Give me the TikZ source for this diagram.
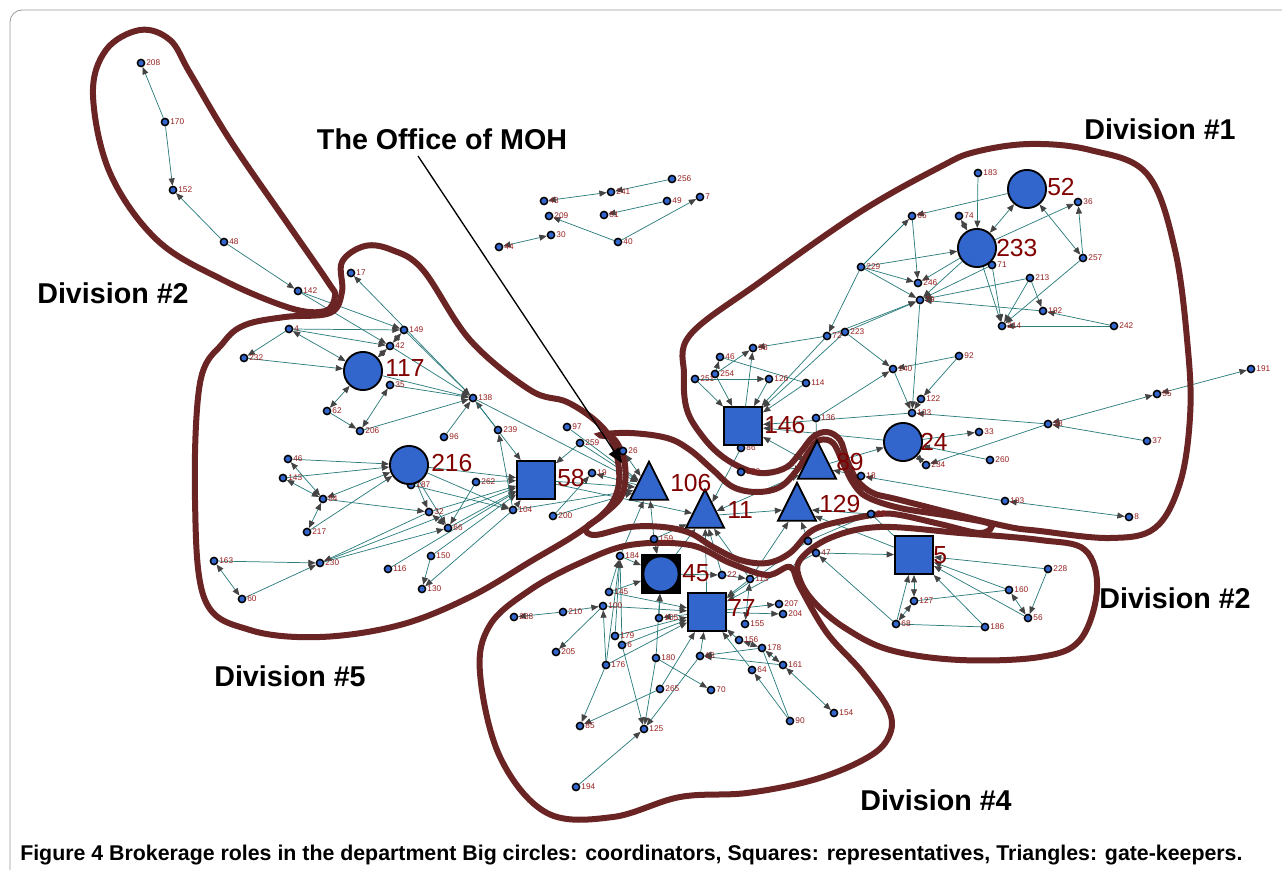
\documentclass[tikz,border=0pt]{standalone}
\usepackage{fontspec}
\setmainfont{Liberation Sans}
\usetikzlibrary{arrows.meta,shapes.geometric}
\definecolor{nblue}{RGB}{51,102,204}
\definecolor{eteal}{RGB}{45,125,125}
\definecolor{agray}{RGB}{68,68,68}
\definecolor{lred}{RGB}{150,30,30}
\definecolor{bred}{RGB}{128,0,0}
\definecolor{outl}{RGB}{107,36,36}
\pgfdeclarelayer{edges}\pgfdeclarelayer{outlines}
\pgfsetlayers{edges,outlines,main}
\newcommand\smnode[4]{\node[sn,label={[sl]0:#4}] (#1) at (#2,#3) {};}
\begin{document}
\begin{tikzpicture}[x=0.75pt,y=-0.75pt,
  sn/.style={circle,draw=black,line width=1.1pt,fill=nblue,inner sep=0pt,minimum size=5.4pt},
  sl/.style={text=lred,font=\fontsize{6.2}{6.2}\selectfont,inner sep=0.6pt,label distance=0pt},
  bc/.style={circle,draw=black,line width=1.4pt,fill=nblue,minimum size=28.6pt,inner sep=0pt},
  bs/.style={rectangle,draw=black,line width=1.4pt,fill=nblue,minimum size=28.6pt,inner sep=0pt},
  bt/.style={isosceles triangle,shape border rotate=90,isosceles triangle stretches,minimum width=28.6pt,minimum height=28.6pt,draw=black,line width=1.4pt,fill=nblue,inner sep=0pt},
  bl/.style={text=bred,font=\fontsize{18.5}{18.5}\selectfont,inner sep=0pt,anchor=west},
  tip/.tip={Triangle[length=5.5pt,width=4.5pt,color=agray]},
  e/.style={draw=eteal,line width=0.55pt,-tip},
  eb/.style={draw=eteal,line width=0.55pt,tip-tip},
  ep/.style={draw=eteal,line width=0.55pt},
  dv/.style={outl,line width=4.5pt},
  dl/.style={font=\bfseries\fontsize{21.5}{21.5}\selectfont,inner sep=0pt}
]
\useasboundingbox (0,0) rectangle (1282,870);
\draw[black!40,line width=0.6pt,rounded corners=9pt] (10,880) -- (10,10) -- (1295,10);

% ---------- small nodes ----------
\smnode{n208}{141}{63}{208}
\smnode{n170}{165}{122}{170}
\smnode{n152}{173}{190}{152}
\smnode{n48}{224}{242}{48}
\smnode{n142}{298}{291}{142}
\smnode{n17}{351}{273}{17}
\smnode{n4}{289}{329}{4}
\smnode{n149}{404}{330}{149}
\smnode{n42}{390}{346}{42}
\smnode{n232}{244}{358}{232}
\smnode{n35}{390}{385}{35}
\smnode{n62}{327}{411}{62}
\smnode{n206}{360}{431}{206}
\smnode{n96}{444}{437}{96}
\smnode{n138}{473}{398}{138}
\smnode{n187}{411}{485}{187}
\smnode{n46a}{288}{459}{46}
\smnode{n143}{283}{478}{143}
\smnode{n84}{323}{499}{84}
\smnode{n217}{307}{532}{217}
\smnode{n32}{429}{512}{32}
\smnode{n66}{448}{528}{66}
\smnode{n163}{214}{561}{163}
\smnode{n230}{320}{563}{230}
\smnode{n60}{242}{599}{60}
\smnode{n116}{388}{569}{116}
\smnode{n150}{431}{556}{150}
\smnode{n130}{422}{589}{130}
\smnode{n239}{498}{430}{239}
\smnode{n97}{567}{427}{97}
\smnode{n259}{580}{443}{259}
\smnode{n26}{623}{451}{26}
\smnode{n19}{592}{473}{19}
\smnode{n262}{476}{482}{262}
\smnode{n104}{513}{510}{104}
\smnode{n200}{553}{516}{200}
\smnode{n159}{654}{539}{159}
\smnode{n184}{620}{556}{184}
% top cluster
\smnode{n256}{672}{179}{256}
\smnode{n241}{611}{192}{241}
\smnode{n43}{544}{201}{43}
\smnode{n49}{667}{201}{49}
\smnode{n7}{700}{197}{7}
\smnode{n209}{549}{216}{209}
\smnode{n81}{604}{215}{81}
\smnode{n30}{551}{235}{30}
\smnode{n44}{499}{247}{44}
\smnode{n40}{618}{242}{40}
% division 1
\smnode{n72}{827}{336}{72}
\smnode{n223}{845}{332}{223}
\smnode{n98}{753}{348}{98}
\smnode{n46b}{720}{357}{46}
\smnode{n254}{715}{374}{254}
\smnode{n251}{695}{379}{251}
\smnode{n126}{769}{379}{126}
\smnode{n114}{806}{383}{114}
\smnode{n140}{893}{369}{140}
\smnode{n92}{959}{356}{92}
\smnode{n122}{921}{399}{122}
\smnode{n133}{912}{413}{133}
\smnode{n136}{816}{418}{136}
\smnode{n86}{741}{448}{86}
\smnode{n250}{741}{472}{250}
\smnode{n33}{979}{432}{33}
\smnode{n234}{926}{465}{234}
\smnode{n260}{990}{460}{260}
\smnode{n18}{861}{476}{18}
\smnode{n65}{912}{216}{65}
\smnode{n74}{959}{216}{74}
\smnode{n229}{861}{267}{229}
\smnode{n246}{918}{283}{246}
\smnode{n79}{920}{300}{79}
\smnode{n183}{978}{173}{183}
\smnode{n36}{1078}{202}{36}
\smnode{n71}{992}{265}{71}
\smnode{n257}{1083}{258}{257}
\smnode{n213}{1030}{278}{213}
\smnode{n192}{1043}{311}{192}
\smnode{n214}{1002}{326}{214}
\smnode{n242}{1114}{326}{242}
\smnode{n191}{1251}{369}{191}
\smnode{n55}{1157}{394}{55}
\smnode{n38}{1048}{424}{38}
\smnode{n37}{1147}{441}{37}
\smnode{n193}{1005}{501}{193}
\smnode{n8}{1129}{517}{8}
% division 4
\smnode{n145}{609}{592}{145}
\smnode{n100}{603}{606}{100}
\smnode{n210}{563}{612}{210}
\smnode{n238}{514}{617}{238}
\smnode{n105}{659}{618}{105}
\smnode{n179}{615}{636}{179}
\smnode{n6}{622}{645}{6}
\smnode{n205}{556}{652}{205}
\smnode{n176}{606}{665}{176}
\smnode{n180}{656}{658}{180}
\smnode{n265}{660}{689}{265}
\smnode{n22}{722}{575}{22}
\smnode{n113}{750}{579}{113}
\smnode{n207}{779}{604}{207}
\smnode{n201}{783}{614}{204}
\smnode{n155}{745}{624}{155}
\smnode{n156}{739}{640}{156}
\smnode{n178}{762}{648}{178}
\smnode{n13}{700}{656}{13}
\smnode{n161}{783}{665}{161}
\smnode{n64}{752}{670}{64}
\smnode{n70}{711}{690}{70}
\smnode{n85}{580}{726}{85}
\smnode{n125}{644}{729}{125}
\smnode{n90}{790}{721}{90}
\smnode{n154}{834}{713}{154}
\smnode{n194}{576}{787}{194}
% division 2 (right)
\smnode{n88}{871}{514}{88}
\node[sn] (nx1) at (808,541) {};
\smnode{n47}{816}{553}{47}
\smnode{n228}{1048}{569}{228}
\smnode{n160}{1009}{590}{160}
\smnode{n127}{914}{601}{127}
\smnode{n56}{1028}{618}{56}
\smnode{n68}{896}{624}{68}
\smnode{n186}{985}{627}{186}

% ---------- big nodes ----------
\node[bc] (c117) at (363,371) {};
\node[bc] (c216) at (409,465) {};
\node[bs] (s58) at (536,480) {};
\node[bt] (t106) at (649,488) {};
\node[bt] (t11) at (705,516) {};
\node[bt] (t89) at (817,467) {};
\node[bt] (t129) at (797,509) {};
\node[bs] (s146) at (743,426) {};
\node[bc] (c24) at (903,442) {};
\node[bc] (c233) at (977,248) {};
\node[bc] (c52) at (1027,189) {};
\node[bs,fill=black] (s45) at (661,574) {};
\node[circle,fill=nblue,minimum size=25pt,inner sep=0pt] (c45) at (661,574) {};
\node[bs] (s77) at (707,612) {};
\node[bs] (s5) at (914,555) {};

\node[bl] (l117) at (385,368) {117};
\node[bl] (l216) at (431,463) {216};
\node[bl] (l58) at (557,478) {58};
\node[bl] (l106) at (670,483) {106};
\node[bl] (l11) at (727,510) {11};
\node[bl] (l146) at (764,425) {146};
\node[bl] (l89) at (836,462) {89};
\node[bl] (l129) at (819,504) {129};
\node[bl] (l24) at (920,442) {24};
\node[bl] (l233) at (996,248) {233};
\node[bl] (l52) at (1047,187) {52};
\node[bl] (l45) at (682,573) {45};
\node[bl] (l77) at (728,608) {77};
\node[bl] (l5) at (933,555) {5};

% ---------- edges ----------
\begin{pgfonlayer}{edges}
\foreach \a/\b in {n170/n208,n170/n152,n48/n152,n48/n142,n142/n149,n142/n42,
 n4/n149,n4/n42,n4/n232,n232/c117,n62/n206,
 n138/n17,n149/n138,n42/n138,c117/n138,n35/n138,n206/n138,n96/n138,n239/n138,
 n138/s58,n259/s58,n262/s58,c216/s58,n104/s58,n32/s58,n66/s58,n150/s58,n116/s58,n230/s58,
 n138/t106,n97/t106,n259/t106,s58/t106,n104/t106,n200/t106,t106/n19,n200/n19,
 n104/n239,n262/n66,c216/n104,c216/n32,c216/n66,n187/n104,
 n46a/c216,n143/c216,n217/c216,n84/n32,n163/n230,n60/n230,n32/n230,n230/n66,n150/n130,n104/n130,
 s58/t11,n159/t106,n184/t106,n159/t11,s45/t11,s77/t11,n86/t11,t11/t129,
 n136/t89,n250/t89,t89/c24,c24/s146,n133/s146,
 n251/s146,n254/s146,n126/s146,n114/s146,n72/s146,s146/n98,n254/n46b,n254/n98,n251/n126,n72/n98,
 n223/n140,n136/n140,n92/n140,n92/n122,n140/n133,n122/n133,n79/n133,c24/n33,n260/c24,n37/n38,n193/n18,n38/n133,n38/n234,
 n183/c233,c233/n36,n257/n36,n257/n214,c233/n214,n71/n214,n213/n192,n213/n214,n242/n192,n242/n214,
 n229/c233,c52/n65,n229/n65,n229/n246,n229/n79,n229/n72,n65/n246,n223/n79,n72/n79,c233/n246,c233/n79,
 n192/n79,n213/n79,n71/n79,n223/s146,n18/t89,
 n47/s5,s5/t129,n88/t129,nx1/t129,n68/s5,n186/s5,n160/s5,n56/s5,n228/s5,n228/n56,n68/n47,
 n145/n184,n6/n184,n179/n184,n176/n184,n210/n238,n210/n100,n176/n100,n100/n205,
 n105/s45,n145/s45,n180/s45,n184/s45,n159/s45,s45/n22,n22/n113,n113/s77,n156/s77,n64/s77,n13/s77,
 n265/s77,n176/s77,n100/s77,n179/s77,n6/s77,n145/s77,s77/n201,s77/n207,n161/n13,n178/n13,n90/n64,
 n6/n125,n180/n125,n13/n125,n194/n125,n176/n85,n265/n85,n180/n70,nx1/s77,n47/s77,n113/t129,s77/n105,
 n22/t11,n113/t11,
 n256/n241,n49/n81,n40/n209,n40/n7}
 \draw[e] (\a) -- (\b);
\foreach \a/\b in {n4/c117,n42/n149,c117/n42,c117/n62,n35/n206,n46a/n84,n143/n84,c216/n84,n84/n217,n32/n66,
 n163/n60,n26/t106,t89/s146,n234/c24,n38/n55,n55/n191,n193/n8,n74/c233,c52/c233,c52/n257,n127/s5,n68/n127,
 n160/n56,n178/n156,n178/n161,n161/n154,n155/n113,n43/n241,n44/n30,t89/t11}
 \draw[eb] (\a) -- (\b);
\foreach \a/\b in {n46b/n114,n160/n127,n186/n68,n88/s5,n88/nx1,n90/n178}
 \draw[ep] (\a) -- (\b);
\end{pgfonlayer}

% ---------- division outlines ----------
\begin{pgfonlayer}{outlines}
\draw[dv] plot[smooth cycle,tension=0.6] coordinates {(140,30) (106,50) (93,95) (110,173) (157,240) (223,280) (290,308) (325,311) (335,296) (328,282) (290,227) (230,140) (190,73) (170,40)};
\draw[dv] plot[smooth cycle,tension=0.6] coordinates {(365,246) (392,250) (423,270) (470,340) (530,390) (567,402) (597,422) (613,443) (619,470) (617,492) (605,512) (575,535) (533,560) (470,597) (400,625) (320,637) (250,630) (205,600) (195,500) (200,383) (223,343) (245,325) (285,317) (330,313) (342,292) (342,262)};
\draw[dv] plot[smooth cycle,tension=0.6] coordinates {(690,335) (760,282) (860,212) (940,167) (975,152) (1030,144) (1090,150) (1147,174) (1175,250) (1188,350) (1190,417) (1180,483) (1155,528) (1110,538) (1040,531) (1000,525) (900,500) (873,493) (857,480) (847,460) (840,440) (827,432) (813,437) (800,453) (787,467) (767,473) (747,470) (723,457) (703,437) (687,410) (684,375)};
\draw[dv] plot[smooth cycle,tension=0.6] coordinates {(600,435) (630,433) (667,438) (690,450) (713,470) (733,487) (757,492) (780,487) (797,470) (810,450) (820,440) (833,443) (843,463) (853,483) (867,497) (900,508) (950,516) (990,524) (980,533) (940,524) (900,515) (880,514) (847,520) (813,530) (790,553) (767,563) (740,560) (713,547) (690,533) (663,527) (630,527) (595,535) (586,528) (603,515) (622,495) (625,465) (615,440)};
\draw[dv] plot[smooth cycle,tension=0.6] coordinates {(580,563) (630,545) (690,545) (730,563) (767,575) (790,567) (800,587) (827,633) (863,673) (890,713) (887,740) (863,760) (813,780) (747,793) (680,797) (613,817) (547,813) (500,757) (480,673) (490,625) (530,590)};
\draw[dv] plot[smooth cycle,tension=0.6] coordinates {(800,560) (830,538) (880,527) (960,533) (1040,540) (1085,550) (1097,590) (1080,640) (1040,657) (960,660) (890,650) (845,628) (815,603) (800,580)};
\end{pgfonlayer}

% ---------- texts ----------
\node[dl] (d1) at (1160,129) {Division \#1};
\node[dl] (d2a) at (113,293) {Division \#2};
\node[dl] (d5) at (290,676) {Division \#5};
\node[dl] (d4) at (936,800) {Division \#4};
\node[dl] (d2b) at (1175,598) {Division \#2};
\node[dl] (moh) at (442,139) {The Office of MOH};
\coordinate (mohtip) at (622,463);
\draw[black,line width=1pt,-{Triangle[length=11pt,width=9pt]}] (418,156) -- (mohtip);
\node[anchor=west,inner sep=0pt,font=\bfseries\fontsize{16}{16}\selectfont] (cap) at (20,855) {Figure 4 Brokerage roles in the department Big circles: coordinators, Squares: representatives, Triangles: gate-keepers.};
\end{tikzpicture}
\end{document}
